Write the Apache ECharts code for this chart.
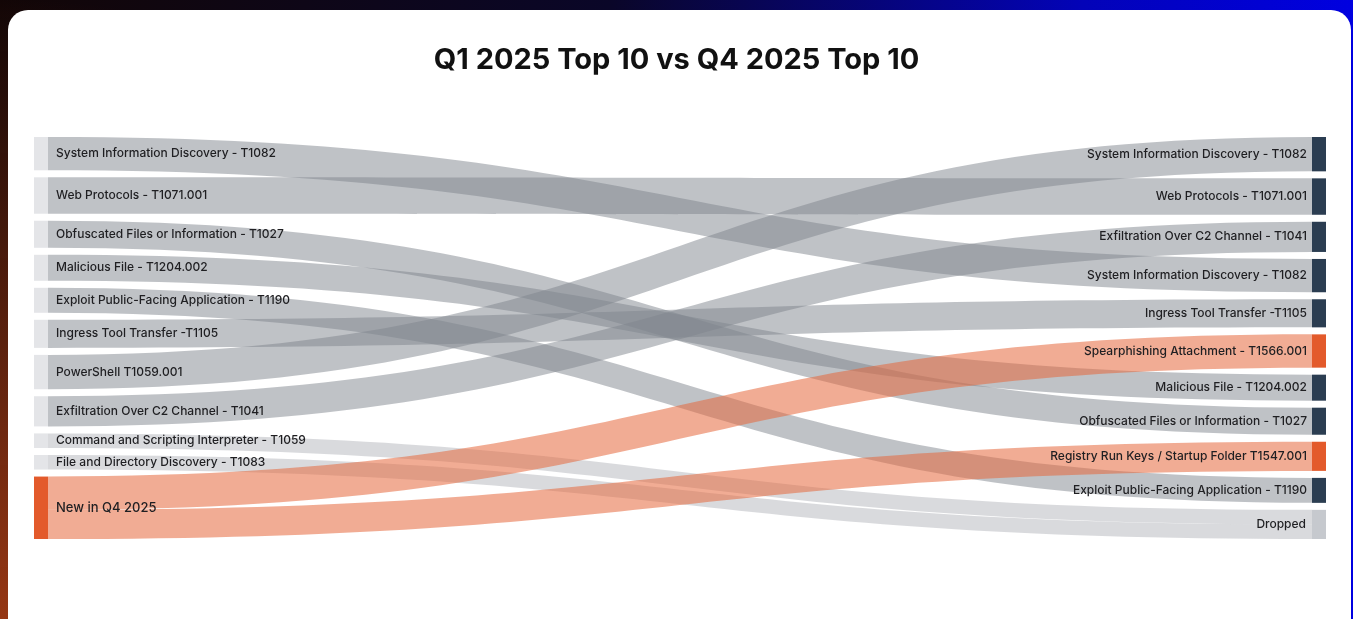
<!DOCTYPE html>
<html>
<head>
<meta charset="utf-8">
<title>Q1 2025 Top 10 vs Q4 2025 Top 10</title>
<script src="https://cdn.jsdelivr.net/npm/echarts@6/dist/echarts.min.js"></script>
<style>
  html, body { margin: 0; padding: 0; width: 1353px; height: 619px; overflow: hidden; }
  body {
    background:
      radial-gradient(ellipse 700px 620px at 0% 100%, rgba(150, 55, 20, 1) 0%, rgba(150, 55, 20, 0) 100%),
      linear-gradient(90deg, #120606 0%, #0a0628 45%, #0303b8 80%, #0000e0 100%);
  }
  .card {
    position: absolute; left: 8px; top: 10px; width: 1343px; height: 640px;
    background: #ffffff; border-radius: 20px;
  }
  #chart { position: absolute; left: 0; top: 0; width: 1353px; height: 619px; }
</style>
</head>
<body>
<div class="card"></div>
<div id="chart"></div>
<script>
// Q1 2025 top-10 techniques, in ranked order
const q1Techniques = [
  'System Information Discovery - T1082',
  'Web Protocols - T1071.001',
  'Obfuscated Files or Information - T1027',
  'Malicious File - T1204.002',
  'Exploit Public-Facing Application - T1190',
  'Ingress Tool Transfer -T1105',
  'PowerShell T1059.001',
  'Exfiltration Over C2 Channel - T1041',
  'Command and Scripting Interpreter - T1059',
  'File and Directory Discovery - T1083'
];

// Q4 2025 top-10 techniques, in ranked order
const q4Techniques = [
  'System Information Discovery - T1082',
  'Web Protocols - T1071.001',
  'Exfiltration Over C2 Channel - T1041',
  'System Information Discovery - T1082',
  'Ingress Tool Transfer -T1105',
  'Spearphishing Attachment - T1566.001',
  'Malicious File - T1204.002',
  'Obfuscated Files or Information - T1027',
  'Registry Run Keys / Startup Folder T1547.001',
  'Exploit Public-Facing Application - T1190'
];

// Where each Q1 technique landed in Q4 (index into q4Techniques, -1 = dropped)
const q1Destination = [3, 1, 7, 6, 9, 4, 0, 2, -1, -1];
// Flow weight carried by each Q1 technique
const q1Weights = [32, 35, 26, 25, 24, 27, 33, 29, 14, 14];

// Techniques that entered the Q4 list
const newEntryLabel = 'New in Q4 2025';
const newEntryTargets = [5, 8];
const newEntryWeights = [32, 28];

const droppedLabel = 'Dropped';

const COLORS = {
  q1Node: '#e4e5e8',
  q4Node: '#2b3d51',
  accent: '#e35a2b',
  dropped: '#c6c9ce',
  flow: '#80858e',
  accentFlow: '#e5683d',
  text: '#1f1f22'
};
const FONT = 'Inter, "Noto Sans", sans-serif';

const newSet = new Set(newEntryTargets);

const nodes = [];
q1Techniques.forEach((t, i) => nodes.push({
  name: 'q1:' + i,
  depth: 0,
  itemStyle: { color: COLORS.q1Node },
  label: { position: 'right', distance: 8, formatter: t }
}));
nodes.push({
  name: 'q1:new',
  depth: 0,
  itemStyle: { color: COLORS.accent },
  label: { position: 'right', distance: 8, formatter: newEntryLabel, fontSize: 13 }
});
q4Techniques.forEach((t, i) => nodes.push({
  name: 'q4:' + i,
  depth: 1,
  itemStyle: { color: newSet.has(i) ? COLORS.accent : COLORS.q4Node },
  label: { position: 'left', distance: 5, formatter: t }
}));
nodes.push({
  name: 'q4:dropped',
  depth: 1,
  itemStyle: { color: COLORS.dropped },
  label: { position: 'left', distance: 6, formatter: droppedLabel }
});

const links = [];
q1Destination.forEach((dest, i) => {
  const dropped = dest < 0;
  links.push({
    source: 'q1:' + i,
    target: dropped ? 'q4:dropped' : 'q4:' + dest,
    value: q1Weights[i],
    lineStyle: dropped ? { color: COLORS.flow, opacity: 0.3 } : undefined
  });
});
newEntryTargets.forEach((dest, k) => {
  links.push({
    source: 'q1:new',
    target: 'q4:' + dest,
    value: newEntryWeights[k],
    lineStyle: { color: COLORS.accentFlow, opacity: 0.55 }
  });
});

const chart = echarts.init(document.getElementById('chart'), null, { renderer: 'canvas' });
chart.setOption({
  backgroundColor: 'transparent',
  animation: false,
  title: {
    text: 'Q1 2025 Top 10 vs Q4 2025 Top 10',
    left: 'center',
    top: 41,
    textStyle: { fontFamily: FONT, fontSize: 29, fontWeight: 'bold', color: '#111' }
  },
  series: [{
    type: 'sankey',
    left: 34,
    right: 27,
    top: 137,
    bottom: 80,
    nodeWidth: 14,
    nodeGap: 7,
    layoutIterations: 0,
    draggable: false,
    emphasis: { disabled: true },
    nodes: nodes,
    links: links,
    label: {
      fontFamily: FONT,
      fontSize: 12,
      fontWeight: 500,
      color: COLORS.text
    },
    lineStyle: { color: COLORS.flow, opacity: 0.5, curveness: 0.5 },
    itemStyle: { borderWidth: 0 }
  }]
});
</script>
</body>
</html>
